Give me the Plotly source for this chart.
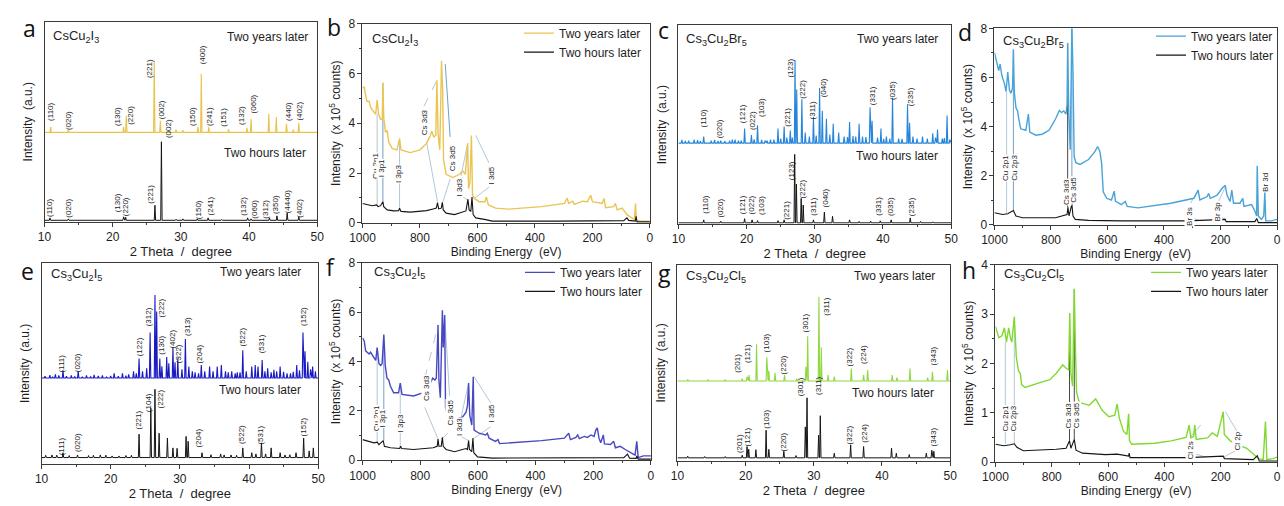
import plotly.graph_objects as go

W, H = 1284, 506
FONT = "Liberation Sans, Arial, sans-serif"
AX = "#3a3a3a"
TXT = "#1e1e1e"

# ======================= XRD data (2-theta in degree, intensity in a.u.) =======================
# (a) CsCu2I3
a_years_base = 44.7
a_years_pos = [10.9, 13.5, 21.6, 22.0, 26.1, 27.0, 29.3, 30.3, 32.5, 33.0, 34.1, 37.0, 39.7, 40.3, 42.9, 44.0, 45.5, 46.5, 47.3]
a_years_int = [47.5, 46.0, 47.5, 53.0, 80.6, 50.5, 46.0, 45.8, 47.5, 74.0, 47.5, 46.2, 47.0, 51.5, 54.0, 52.4, 49.0, 46.0, 49.5]
a_hours_base = 0.8
a_hours_pos = [10.8, 13.5, 21.6, 21.9, 26.2, 27.15, 29.3, 30.3, 32.4, 34.0, 36.0, 39.8, 40.3, 43.0, 44.1, 45.6, 47.3]
a_hours_int = [2.0, 1.5, 2.5, 2.3, 8.3, 40.0, 1.3, 1.5, 1.5, 2.0, 1.2, 2.0, 1.5, 2.0, 3.0, 4.4, 2.5]
a_years_hkl = ["(110)", "(020)", "(130)", "(220)", "(221)", "(002)", "(400)", "(150)", "(241)", "(151)", "(132)", "(060)", "(440)", "(402)"]
a_years_hkl_x = [10.77, 13.5, 20.8, 22.7, 25.3, 27.1, 33.2, 31.8, 34.3, 36.3, 39.0, 40.6, 45.7, 47.4]
a_years_hkl_y = [54.8, 50.5, 52.4, 53.0, 76.7, 55.8, 83.5, 52.4, 52.4, 52.4, 53.0, 58.7, 55.3, 55.3]
a_hours_hkl = ["(110)", "(020)", "(130)", "(220)", "(221)", "(002)", "(150)", "(241)", "(132)", "(060)", "(312)", "(350)", "(4440)", "(402)"]
a_hours_hkl_x = [10.77, 13.5, 20.7, 22.0, 25.6, 28.2, 32.5, 34.3, 39.2, 40.8, 42.4, 43.9, 45.7, 47.4]
a_hours_hkl_y = [6.8, 6.8, 9.5, 7.5, 14.0, 46.6, 6.3, 7.8, 7.8, 6.3, 6.3, 8.7, 10.2, 6.8]

# (c) Cs3Cu2Br5
c_years_base = 40.7
c_years_pos = [11.5, 12.3, 13.7, 14.8, 16.2, 17.5, 18.3, 19.7, 20.7, 21.6, 22.7, 23.5, 24.6, 25.5, 26.4, 27.1, 27.35, 28.1, 28.6, 29.8,
               30.7, 31.1, 31.7, 32.7, 33.5, 34.3, 35.1, 36.0, 36.5, 37.0, 38.1, 38.4, 39.7, 40.5, 41.4, 42.3, 43.6, 43.9, 45.0, 45.8,
               46.5, 47.3, 48.0, 48.7, 49.4,
               10.5, 11.0, 12.8, 13.2, 15.3, 15.8, 16.8, 17.9, 18.8, 19.2, 21.1, 22.2, 23.0, 24.0, 25.0, 25.9, 26.7, 29.2, 30.2, 32.2,
               34.8, 35.6, 37.5, 39.2, 40.1, 41.0, 42.8, 44.4, 47.7, 49.0, 49.8]
c_years_int = [42.0, 42.5, 44.0, 42.0, 42.0, 42.0, 42.5, 48.0, 44.8, 49.7, 42.0, 42.5, 48.0, 49.0, 47.0, 82.5, 67.7, 62.8, 46.0, 53.8,
               68.5, 57.0, 53.0, 50.5, 46.0, 44.0, 51.3, 44.0, 50.5, 44.0, 58.7, 52.0, 48.0, 44.0, 63.6, 43.0, 60.3, 51.0, 43.0, 44.0,
               43.0, 45.6, 47.5, 43.0, 54.6,
               42.3, 41.8, 42.2, 41.6, 42.3, 41.8, 41.8, 42.4, 42.0, 41.9, 42.6, 42.3, 42.0, 42.5, 43.0, 43.5, 43.5, 44.0, 44.5, 45.0,
               43.8, 44.2, 43.8, 43.5, 42.8, 43.0, 42.9, 44.0, 43.5, 43.2, 42.5]
c_hours_base = 0.5
c_hours_pos = [13.7, 16.2, 19.7, 20.8, 21.6, 24.6, 25.5, 27.05, 27.3, 28.0, 28.3, 29.8, 31.4, 32.6, 35.1, 36.5, 38.2, 39.6, 41.2, 44.0, 45.5, 47.3]
c_hours_int = [2.0, 1.3, 2.6, 2.0, 1.6, 1.6, 2.0, 35.0, 20.0, 12.8, 9.5, 2.0, 5.9, 3.8, 2.0, 1.2, 1.3, 1.5, 2.0, 3.0, 1.2, 1.0]
c_hkl = ["(110)", "(020)", "(121)", "(022)", "(103)", "(221)", "(123)", "(222)", "(311)", "(040)", "(331)", "(035)", "(235)"]
c_years_hkl_x = [13.7, 16.05, 19.5, 20.85, 22.2, 26.0, 26.4, 28.15, 29.8, 31.4, 38.4, 41.4, 44.0]
c_years_hkl_y = [53.0, 48.0, 55.4, 52.0, 58.7, 53.8, 78.4, 67.7, 57.4, 68.5, 64.4, 67.2, 63.9]
c_hours_hkl_x = [14.0, 16.15, 19.5, 20.85, 22.15, 25.9, 26.7, 28.25, 29.75, 31.5, 39.3, 41.1, 44.2]
c_hours_hkl_y = [9.5, 7.9, 9.5, 9.5, 9.2, 7.0, 26.7, 17.7, 8.7, 12.8, 8.7, 8.7, 8.7]

# (e) Cs3Cu2I5
e_years_base = 42.7
e_years_pos = [11.2, 12.0, 13.1, 14.3, 15.3, 16.5, 17.6, 18.8, 20.5, 21.7, 22.6, 23.3, 24.1, 25.2, 25.7, 26.4, 26.65, 27.1, 27.4, 28.1,
               28.4, 29.0, 29.3, 29.7, 30.8, 31.3, 32.2, 33.1, 34.3, 35.4, 36.0, 37.5, 38.3, 39.1, 40.4, 40.9, 41.3, 41.9, 42.7, 43.6,
               44.5, 45.5, 46.9, 47.8, 48.1, 48.5, 49.2, 49.6,
               10.5, 11.6, 12.5, 13.6, 14.8, 15.9, 17.1, 18.2, 19.4, 20.0, 21.1, 22.2, 23.7, 24.6, 30.3, 31.8, 32.7, 33.6, 34.8, 36.6,
               37.0, 38.0, 38.7, 39.6, 42.3, 43.2, 44.0, 45.0, 46.0, 46.4, 47.3, 48.9]
e_years_int = [44.2, 44.5, 46.5, 44.0, 46.0, 44.0, 44.3, 44.0, 45.0, 45.0, 44.5, 46.0, 52.4, 47.6, 65.3, 83.9, 75.8, 52.4, 48.5, 53.2,
               50.0, 58.0, 50.5, 52.4, 62.1, 48.4, 45.5, 49.2, 48.4, 48.4, 49.2, 46.0, 45.5, 56.5, 48.4, 49.2, 48.4, 51.6, 47.6, 46.8,
               48.4, 45.0, 49.2, 65.3, 56.0, 50.8, 48.4, 46.0,
               43.6, 43.3, 44.0, 43.6, 43.5, 43.4, 43.5, 43.7, 43.3, 43.8, 43.6, 43.9, 45.0, 46.0, 47.0, 46.0, 45.0, 46.0, 46.0, 46.0,
               45.5, 45.0, 45.5, 46.0, 46.0, 45.5, 46.0, 45.8, 45.0, 45.8, 46.5, 47.0]
e_hours_base = 3.2
e_hours_pos = [11.5, 13.1, 15.2, 16.8, 18.5, 20.2, 23.0, 24.1, 25.8, 26.4, 27.0, 28.2, 29.0, 29.6, 30.9, 31.2, 33.2, 35.9, 36.4, 39.1,
               40.4, 41.0, 41.8, 43.2, 44.5, 45.2, 46.8, 47.9, 48.7, 49.3,
               10.6, 12.2, 14.0, 17.5, 19.3, 21.2, 22.2, 34.5, 37.4, 38.2, 42.4, 45.9]
e_hours_int = [4.5, 5.6, 4.5, 4.2, 4.5, 4.0, 4.3, 14.8, 27.7, 37.1, 15.3, 12.9, 8.0, 7.8, 13.7, 11.3, 5.6, 5.0, 4.5, 8.0,
               5.6, 5.0, 10.5, 8.0, 5.6, 4.5, 5.6, 12.9, 6.5, 8.0,
               4.3, 4.4, 4.2, 4.3, 4.4, 4.0, 4.2, 4.6, 4.5, 4.3, 5.0, 4.6]
e_years_hkl = ["(111)", "(020)", "(122)", "(312)", "(222)", "(130)", "(402)", "(322)", "(313)", "(204)", "(522)", "(531)", "(152)"]
e_years_hkl_x = [12.85, 15.2, 24.1, 25.4, 27.4, 27.3, 28.8, 29.8, 31.0, 32.9, 39.0, 41.8, 47.9]
e_years_hkl_y = [50.0, 50.3, 58.0, 72.9, 77.7, 58.9, 62.1, 54.8, 68.5, 54.8, 62.9, 59.7, 73.4]
e_hours_hkl = ["(111)", "(020)", "(221)", "(104)", "(222)", "(204)", "(522)", "(531)", "(152)"]
e_hours_hkl_x = [12.85, 15.3, 24.0, 25.5, 27.2, 32.7, 39.0, 41.7, 47.9]
e_hours_hkl_y = [8.9, 10.5, 21.8, 30.6, 32.3, 12.9, 14.5, 14.5, 18.5]

# (g) Cs3Cu2Cl5
g_years_base = 40.8
g_years_pos = [11.5, 14.5, 17.0, 19.5, 20.2, 20.5, 21.6, 23.1, 23.4, 24.3, 25.7, 27.5, 28.85, 29.1, 30.75, 31.1, 32.1, 33.0, 35.5, 37.3,
               37.9, 41.5, 42.2, 44.1, 46.7, 47.4, 49.6]
g_years_int = [41.5, 41.5, 41.5, 42.0, 43.0, 43.8, 59.5, 52.9, 46.0, 45.0, 43.8, 42.0, 48.0, 63.6, 83.5, 57.9, 43.8, 43.0, 47.1, 43.8,
               46.3, 43.8, 42.5, 47.1, 42.5, 45.5, 46.3]
g_hours_base = 1.65
g_hours_pos = [11.5, 14.0, 17.0, 19.5, 20.2, 20.45, 21.5, 23.0, 23.4, 25.6, 27.4, 28.75, 29.0, 30.7, 30.95, 33.0, 35.4, 37.3, 41.4, 42.1,
               44.0, 46.5, 47.3, 47.6]
g_hours_int = [2.5, 2.3, 2.3, 3.0, 7.4, 6.0, 5.8, 15.7, 6.0, 5.0, 2.8, 17.4, 32.2, 13.2, 23.1, 4.0, 8.3, 7.4, 6.6, 4.0,
               3.3, 4.0, 5.5, 5.0]
g_hkl = ["(201)", "(121)", "(103)", "(220)", "(301)", "(311)", "(322)", "(224)", "(343)"]
g_years_hkl_x = [18.9, 20.2, 23.1, 25.5, 28.75, 31.9, 35.2, 37.2, 47.6]
g_years_hkl_y = [49.6, 54.5, 60.3, 48.8, 70.2, 78.5, 52.9, 54.5, 53.7]
g_hours_hkl_x = [19.0, 20.3, 23.1, 25.6, 28.1, 30.7, 35.2, 37.4, 47.6]
g_hours_hkl_y = [9.1, 12.4, 21.5, 9.9, 38.0, 38.0, 13.2, 14.0, 12.4]

# ======================= XPS data (binding energy eV, intensity x1e5 counts) =======================
b_years_be = [1000, 994, 985, 977, 971, 962, 954, 949, 944, 937, 931, 929, 926, 920, 914, 909, 897, 880, 871, 866,
              834, 800, 777, 766, 759, 752, 745, 741, 737, 731, 725, 721, 718, 709, 686, 663, 651, 642, 634, 631,
              626, 621, 617, 611, 594, 574, 569, 562, 537, 491, 377, 297, 288, 283, 269, 263, 234, 217, 206, 200,
              166, 160, 154, 126, 120, 114, 97, 80, 63, 54, 50, 47, 23, 0]
b_years_int = [5.40, 5.46, 4.88, 4.88, 4.62, 4.49, 4.36, 4.94, 4.36, 4.16, 4.16, 5.63, 4.23, 3.64, 3.71, 3.25, 2.99, 2.93, 3.38, 2.93,
               2.82, 2.93, 3.19, 3.45, 3.68, 3.45, 3.51, 5.72, 3.58, 2.93, 6.50, 5.33, 2.54, 1.95, 1.82, 1.95, 2.08, 1.95, 3.19, 1.37,
               1.63, 3.51, 1.11, 0.98, 0.85, 0.85, 1.04, 0.72, 0.59, 0.55, 0.65, 0.78, 1.00, 0.78, 0.87, 0.74, 0.87, 0.85, 1.11, 0.85,
               0.78, 0.98, 0.61, 0.65, 0.78, 0.52, 0.59, 0.33, 0.20, 0.13, 0.78, 0.09, 0.07, 0.07]
b_hours_be = [1000, 983, 966, 951, 946, 937, 929, 926, 914, 891, 874, 871, 866, 834, 777, 754, 743, 739, 735, 726,
              722, 719, 709, 680, 651, 640, 633, 629, 623, 619, 615, 606, 571, 549, 320, 91, 80, 74, 51, 48, 45, 0]
b_hours_int = [0.78, 0.74, 0.69, 0.72, 0.65, 0.69, 0.85, 0.65, 0.52, 0.48, 0.49, 0.59, 0.46, 0.43, 0.49, 0.56, 0.59, 0.81, 0.56, 0.59,
               0.82, 0.52, 0.39, 0.33, 0.46, 0.48, 0.95, 0.52, 0.46, 1.04, 0.33, 0.20, 0.13, 0.07, 0.07, 0.09, 0.20, 0.10, 0.07, 0.26, 0.04, 0.04]

d_years_be = [1000, 994, 985, 980, 974, 965, 959, 953, 947, 942, 936, 933, 930, 924, 918, 915, 907, 889, 880, 875,
              854, 831, 807, 784, 770, 763, 755, 747, 743, 741, 737, 732, 726, 722, 718, 712, 697, 667, 644, 635,
              627, 621, 615, 603, 586, 576, 572, 551, 537, 530, 492, 376, 294, 279, 273, 247, 242, 236, 212, 195,
              183, 177, 166, 160, 154, 131, 121, 117, 90, 78, 72, 70, 66, 55, 47, 43, 40, 20, 0]
d_years_int = [7.01, 6.75, 6.28, 6.55, 6.09, 5.76, 5.43, 6.22, 5.49, 5.36, 5.56, 7.14, 5.43, 4.77, 4.64, 4.37, 3.91, 3.85, 4.51, 3.78,
               3.65, 3.69, 3.85, 4.31, 4.66, 4.57, 4.64, 4.51, 4.90, 7.40, 4.51, 3.06, 8.06, 6.22, 2.79, 2.53, 2.46, 2.66, 2.99, 3.19,
               2.99, 2.53, 1.34, 1.08, 1.01, 1.37, 0.97, 0.82, 0.95, 0.75, 0.69, 0.88, 1.08, 1.41, 1.01, 1.15, 1.28, 1.08, 1.21, 1.48,
               1.61, 1.21, 0.95, 1.41, 0.88, 0.88, 1.08, 0.75, 0.82, 0.55, 0.36, 2.40, 0.36, 0.22, 0.36, 1.34, 0.16, 0.16, 0.22]
d_hours_be = [1000, 971, 953, 933, 924, 901, 784, 761, 743, 740, 736, 726, 722, 714, 667, 551, 317, 183, 180, 78, 72, 66, 0]
d_hours_int = [0.49, 0.42, 0.45, 0.58, 0.36, 0.29, 0.29, 0.36, 0.42, 0.71, 0.36, 0.84, 0.36, 0.22, 0.18, 0.16, 0.16, 0.22, 0.13, 0.13, 0.26, 0.09, 0.09]

f_years_be = [1000, 994, 989, 977, 972, 960, 954, 949, 943, 937, 932, 926, 921, 915, 909, 903, 892, 875, 869, 863,
              823, 789, 772, 757, 749, 744, 738, 735, 730, 723, 720, 715, 712, 704, 687, 653, 641, 636, 632, 628,
              621, 616, 613, 596, 573, 567, 561, 539, 530, 525, 482, 379, 300, 285, 279, 260, 254, 248, 231, 220,
              208, 197, 191, 186, 180, 174, 165, 161, 140, 129, 123, 106, 89, 66, 55, 49, 44, 26, 0]
f_years_int = [4.96, 4.83, 4.43, 4.30, 4.37, 4.17, 4.04, 4.56, 3.91, 3.84, 3.91, 5.09, 3.84, 3.32, 3.25, 2.99, 2.73, 2.73, 3.12, 2.66,
               2.60, 2.73, 2.92, 3.32, 3.25, 3.32, 5.48, 3.25, 2.53, 6.07, 4.56, 5.88, 2.14, 1.74, 1.61, 1.74, 1.94, 2.20, 3.12, 1.81,
               1.42, 3.38, 1.22, 1.09, 1.02, 1.09, 0.89, 0.76, 0.83, 0.67, 0.70, 0.79, 0.89, 1.09, 0.83, 0.92, 1.02, 0.87, 0.96, 0.92,
               1.02, 0.96, 1.22, 1.31, 0.89, 0.70, 1.02, 0.66, 0.63, 0.76, 0.50, 0.56, 0.43, 0.26, 0.20, 0.76, 0.10, 0.17, 0.17]
f_hours_be = [1000, 977, 960, 949, 943, 928, 924, 903, 871, 868, 864, 823, 755, 741, 738, 735, 727, 723, 720, 710,
              681, 641, 636, 632, 629, 621, 617, 614, 601, 550, 208, 94, 81, 74, 51, 49, 44, 0]
f_hours_int = [0.83, 0.76, 0.70, 0.73, 0.63, 0.79, 0.56, 0.50, 0.47, 0.56, 0.47, 0.43, 0.50, 0.56, 0.85, 0.56, 0.56, 0.92, 0.56, 0.43,
               0.34, 0.47, 0.43, 0.79, 0.43, 0.34, 0.89, 0.30, 0.13, 0.08, 0.10, 0.10, 0.24, 0.08, 0.07, 0.17, 0.04, 0.04]

h_years_be = [1000, 988, 977, 968, 961, 953, 947, 942, 933, 926, 918, 912, 907, 895, 842, 807, 784, 761, 749, 740,
              736, 732, 726, 720, 716, 712, 702, 667, 644, 621, 597, 576, 568, 560, 545, 533, 527, 524, 516, 434,
              376, 323, 312, 306, 296, 292, 287, 247, 230, 212, 191, 187, 166, 148, 131, 107, 84, 66, 49, 41, 36, 14, 0]
h_years_int = [2.75, 2.52, 2.56, 2.72, 2.43, 2.72, 2.52, 2.43, 2.95, 2.13, 1.84, 1.80, 1.57, 1.51, 1.61, 1.67, 1.80, 1.97, 1.90, 1.87,
               3.02, 1.80, 1.54, 3.51, 2.33, 1.41, 1.21, 1.15, 1.28, 1.05, 0.92, 0.95, 1.18, 0.89, 0.62, 0.56, 0.98, 0.43, 0.36, 0.38,
               0.43, 0.50, 0.75, 0.49, 0.52, 0.75, 0.46, 0.49, 0.59, 0.52, 1.02, 0.56, 0.43, 0.37, 0.33, 0.28, 0.16, 0.07, 0.05, 0.82, 0.05, 0.07, 0.10]
h_hours_be = [1000, 971, 947, 933, 924, 901, 784, 749, 737, 732, 720, 714, 691, 609, 568, 527, 525, 522, 317, 191, 187, 84, 70, 63, 0]
h_hours_int = [0.36, 0.33, 0.35, 0.37, 0.30, 0.23, 0.26, 0.28, 0.43, 0.28, 0.46, 0.24, 0.18, 0.15, 0.16, 0.12, 0.18, 0.09, 0.09, 0.12, 0.07, 0.05, 0.13, 0.02, 0.02]

# XPS peak labels (text, BE, intensity)
b_lab = ["Cu 2p1", "I 3p1", "I 3p3", "Cs 3d3", "Cs 3d5", "I 3d3", "I 3d5"]
b_lab_x = [957, 934, 874, 783, 688, 663, 552]
b_lab_y = [2.28, 2.21, 1.95, 4.03, 2.60, 1.43, 1.91]
d_lab = ["Cu 2p1", "Cu 2p3", "Cs 3d3", "Cs 3d5", "Br 3s", "Br 3p", "Br 3d"]
d_lab_x = [961, 930, 743, 720, 308, 212, 43]
d_lab_y = [2.33, 2.33, 1.34, 1.41, 0.36, 0.55, 1.74]
f_lab = ["Cu 2p1", "I 3p1", "I 3p3", "Cs 3d3", "Cs 3d5", "I 3d3", "I 3d5"]
f_lab_x = [951, 929, 867, 780, 696, 661, 552]
f_lab_y = [1.68, 1.68, 1.48, 2.92, 1.94, 1.35, 1.88]
h_lab = ["Cu 2p1", "Cu 2p3", "Cs 3d3", "Cs 3d5", "Cl 2s", "Cl 2p"]
h_lab_x = [965, 936, 741, 714, 308, 140]
h_lab_y = [0.89, 0.89, 0.95, 0.95, 0.24, 0.43]

# leader lines from labels to peaks: (BE0, I0, BE1, I1, tone, dash)
b_leaders = [(949, 0.72, 949, 4.36, "l", "solid"), (929, 0.85, 929, 5.6, "m", "solid"), (871, 0.59, 871, 3.38, "l", "solid"),
             (786, 4.68, 741, 5.72, "l", "dash"), (777, 3.25, 739, 0.85, "l", "solid"), (695, 3.45, 712, 6.37, "m", "solid"),
             (695, 1.76, 720, 0.85, "l", "solid"), (657, 1.89, 634, 3.19, "l", "solid"), (657, 1.10, 634, 0.91, "l", "solid"),
             (560, 2.41, 606, 3.51, "l", "solid"), (560, 1.43, 611, 0.98, "l", "solid")]
d_leaders = [(957, 0.45, 957, 5.43, "l", "solid"), (933, 0.58, 933, 7.14, "m", "solid"), (741, 0.71, 741, 7.4, "d", "solid"),
             (726, 0.84, 726, 8.0, "m", "solid"), (306, 0.88, 279, 1.41, "l", "solid"), (300, 0.29, 277, 0.18, "l", "solid"),
             (207, 0.95, 183, 1.54, "l", "solid"), (201, 0.32, 180, 0.22, "l", "solid")]
f_leaders = [(949, 0.73, 949, 4.56, "l", "solid"), (926, 0.79, 926, 5.0, "m", "solid"), (869, 0.56, 869, 3.12, "l", "solid"),
             (784, 3.32, 738, 5.48, "l", "dash"), (784, 2.14, 738, 0.85, "l", "solid"), (698, 2.6, 715, 5.88, "l", "solid"),
             (704, 1.09, 721, 0.89, "l", "solid"), (658, 1.74, 632, 3.12, "l", "solid"), (658, 0.96, 632, 0.79, "l", "solid"),
             (556, 2.33, 613, 3.38, "l", "solid"), (556, 1.35, 613, 0.89, "l", "solid")]
h_leaders = [(965, 0.37, 965, 2.43, "l", "solid"), (933, 0.37, 933, 2.9, "l", "solid"), (737, 0.43, 737, 3.0, "d", "solid"),
             (720, 0.46, 720, 3.5, "d", "solid"), (306, 0.52, 271, 0.75, "l", "solid"), (288, 0.16, 253, 0.10, "l", "solid"),
             (142, 0.62, 183, 1.02, "l", "solid"), (148, 0.23, 189, 0.10, "l", "solid")]
TONES = {"l": "#a9c1d3", "m": "#5f95c4", "d": "#333333"}


def xrd_line(base, pos, inten, lo=10.0, hi=50.0, w=0.1):
    xs, ys = [lo], [base]
    for p, h in sorted(zip(pos, inten)):
        xs += [p - w, p, p + w]
        ys += [base, h, base]
    xs.append(hi)
    ys.append(base)
    return xs, ys


# panel layout: letter, kind, title, colour, pixel box (left, right), (top, bottom)
panels = [
    ("a", "xrd", "CsCu<sub>2</sub>I<sub>3</sub>", "#e8c54a", (32, 309), (15, 221)),
    ("b", "xps", "CsCu<sub>2</sub>I<sub>3</sub>", "#eac553", (355, 647), (17, 222)),
    ("c", "xrd", "Cs<sub>3</sub>Cu<sub>2</sub>Br<sub>5</sub>", "#2585db", (676, 953), (19, 223)),
    ("d", "xps", "Cs<sub>3</sub>Cu<sub>2</sub>Br<sub>5</sub>", "#48a3d9", (997, 1284), (22, 224)),
    ("e", "xrd", "Cs<sub>3</sub>Cu<sub>2</sub>I<sub>5</sub>", "#1a1ac4", (29, 310), (263, 470)),
    ("f", "xps", "Cs<sub>3</sub>Cu<sub>2</sub>I<sub>5</sub>", "#4848c0", (355, 648), (263, 466)),
    ("g", "xrd", "Cs<sub>3</sub>Cu<sub>2</sub>Cl<sub>5</sub>", "#8fd83f", (675, 952), (265, 467)),
    ("h", "xps", "Cs<sub>3</sub>Cu<sub>2</sub>Cl<sub>5</sub>", "#80d930", (998, 1284), (265, 468)),
]

xrd_sets = {
    "a": (a_years_base, a_years_pos, a_years_int, a_hours_base, a_hours_pos, a_hours_int,
          (a_years_hkl, a_years_hkl_x, a_years_hkl_y), (a_hours_hkl, a_hours_hkl_x, a_hours_hkl_y)),
    "c": (c_years_base, c_years_pos, c_years_int, c_hours_base, c_hours_pos, c_hours_int,
          (c_hkl, c_years_hkl_x, c_years_hkl_y), (c_hkl, c_hours_hkl_x, c_hours_hkl_y)),
    "e": (e_years_base, e_years_pos, e_years_int, e_hours_base, e_hours_pos, e_hours_int,
          (e_years_hkl, e_years_hkl_x, e_years_hkl_y), (e_hours_hkl, e_hours_hkl_x, e_hours_hkl_y)),
    "g": (g_years_base, g_years_pos, g_years_int, g_hours_base, g_hours_pos, g_hours_int,
          (g_hkl, g_years_hkl_x, g_years_hkl_y), (g_hkl, g_hours_hkl_x, g_hours_hkl_y)),
}
xps_sets = {
    "b": (b_years_be, b_years_int, b_hours_be, b_hours_int, (b_lab, b_lab_x, b_lab_y), b_leaders, 8, "legend"),
    "d": (d_years_be, d_years_int, d_hours_be, d_hours_int, (d_lab, d_lab_x, d_lab_y), d_leaders, 8, "legend2"),
    "f": (f_years_be, f_years_int, f_hours_be, f_hours_int, (f_lab, f_lab_x, f_lab_y), f_leaders, 8, "legend3"),
    "h": (h_years_be, h_years_int, h_hours_be, h_hours_int, (h_lab, h_lab_x, h_lab_y), h_leaders, 4, "legend4"),
}

# text placements (pixels): title (left, y), years label (right, y), hours label (right, y), letter (x, y)
text_pos = {
    "a": ((39, 30), (302, 31), (300, 150), (17, 22)),
    "b": ((363, 33), None, None, (326, 21)),
    "c": ((682, 33), (942, 33), (942, 153), (661, 24)),
    "d": ((1004, 35), None, None, (967, 26)),
    "e": ((37, 275), (295, 273), (295, 394), (15, 271)),
    "f": ((365, 273), None, None, (323, 267)),
    "g": ((682, 277), (939, 277), (938, 397), (662, 274)),
    "h": ((1005, 275), None, None, (971, 270)),
}
legend_pos = {"legend": (514, 12), "legend2": (1156, 15), "legend3": (515, 258), "legend4": (1151, 258)}

fig = go.Figure()
layout = dict(width=W, height=H, margin=dict(l=0, r=0, t=0, b=0), paper_bgcolor="white", plot_bgcolor="white",
              font=dict(family=FONT, color=TXT, size=12), showlegend=True)
annotations, shapes = [], []


def px(x):
    return x / W


def py(y):
    return 1 - y / H


for i, (letter, kind, title, color, (xl, xr), (yt, yb)) in enumerate(panels, start=1):
    sfx = "" if i == 1 else str(i)
    xref, yref = "x" + sfx, "y" + sfx
    common = dict(showline=True, mirror=True, linecolor=AX, linewidth=1, ticks="outside", tickcolor=AX,
                  ticklen=4, tickwidth=1, showgrid=False, zeroline=False, tickfont=dict(size=12, color=TXT, family=FONT))
    if kind == "xrd":
        xa = dict(common, domain=[px(xl), px(xr)], anchor=yref, range=[10, 50], tick0=10, dtick=10,
                  minor=dict(ticks="outside", ticklen=2, tickcolor=AX, dtick=5, showgrid=False),
                  title=dict(text="2 Theta\u00a0 /\u00a0 degree", font=dict(size=13, family=FONT, color=TXT), standoff=3))
        ya = dict(common, domain=[py(yb), py(yt)], anchor=xref, range=[0, 100], ticks="", showticklabels=False,
                  title=dict(text="Intensity\u00a0 (a.u.)", font=dict(size=12, family=FONT, color=TXT), standoff=8))
        (yb0, ypos, yint, hb0, hpos, hint, ylab, hlab) = xrd_sets[letter]
        xs, ys = xrd_line(yb0, ypos, yint)
        fig.add_trace(go.Scatter(x=xs, y=ys, mode="lines", line=dict(color=color, width=1.1),
                                 xaxis=xref, yaxis=yref, name="Two years later", showlegend=False))
        xs, ys = xrd_line(hb0, hpos, hint)
        fig.add_trace(go.Scatter(x=xs, y=ys, mode="lines", line=dict(color="#151515", width=1.0),
                                 xaxis=xref, yaxis=yref, name="Two hours later", showlegend=False))
        for labs in (ylab, hlab):
            for t, lx, ly in zip(*labs):
                annotations.append(dict(text=t, x=lx, y=ly, xref=xref, yref=yref, showarrow=False, textangle=-90,
                                        xanchor="center", yanchor="middle", font=dict(size=8, color=TXT, family=FONT)))
    else:
        (ybe, yint, hbe, hint, labs, leaders, ymax, leg) = xps_sets[letter]
        xa = dict(common, domain=[px(xl), px(xr)], anchor=yref, range=[1000, 0], tick0=0, dtick=200,
                  minor=dict(ticks="outside", ticklen=2, tickcolor=AX, dtick=100, showgrid=False),
                  title=dict(text="Binding Energy\u00a0 (eV)", font=dict(size=12, family=FONT, color=TXT), standoff=3))
        ya = dict(common, domain=[py(yb), py(yt)], anchor=xref, range=[0, ymax], tick0=0, dtick=2 if ymax == 8 else 1,
                  minor=dict(ticks="outside", ticklen=2, tickcolor=AX, dtick=1 if ymax == 8 else 0.5, showgrid=False),
                  title=dict(text="Intensity\u00a0 (x 10<sup>5</sup> counts)", font=dict(size=12, family=FONT, color=TXT), standoff=5))
        fig.add_trace(go.Scatter(x=ybe, y=yint, mode="lines", line=dict(color=color, width=1.4),
                                 xaxis=xref, yaxis=yref, name="Two years later", legend=leg))
        fig.add_trace(go.Scatter(x=hbe, y=hint, mode="lines", line=dict(color="#151515", width=1.1),
                                 xaxis=xref, yaxis=yref, name="Two hours later", legend=leg))
        for (x0, y0, x1, y1, tone, dash) in leaders:
            shapes.append(dict(type="line", xref=xref, yref=yref, x0=x0, y0=y0, x1=x1, y1=y1, layer="below",
                               line=dict(color=TONES[tone], width=0.9, dash=dash)))
        for t, lx, ly in zip(*labs):
            annotations.append(dict(text=t, x=lx, y=ly, xref=xref, yref=yref, showarrow=False, textangle=-90,
                                    xanchor="center", yanchor="middle", bgcolor="white", borderpad=0,
                                    font=dict(size=8, color=TXT, family=FONT)))
        lx, ly = legend_pos[leg]
        layout[leg] = dict(x=px(lx), y=py(ly), xanchor="left", yanchor="top", bgcolor="rgba(0,0,0,0)",
                           font=dict(size=12, family=FONT, color=TXT), tracegroupgap=0, itemwidth=30)
    layout["xaxis" + sfx] = xa
    layout["yaxis" + sfx] = ya

    (tpos, ypos_t, hpos_t, lpos) = text_pos[letter]
    annotations.append(dict(text=title, x=px(tpos[0]), y=py(tpos[1]), xref="paper", yref="paper", showarrow=False,
                            xanchor="left", yanchor="middle", font=dict(size=13, family=FONT, color=TXT)))
    if ypos_t:
        annotations.append(dict(text="Two years later", x=px(ypos_t[0]), y=py(ypos_t[1]), xref="paper", yref="paper",
                                showarrow=False, xanchor="right", yanchor="middle", font=dict(size=12, family=FONT, color=TXT)))
        annotations.append(dict(text="Two hours later", x=px(hpos_t[0]), y=py(hpos_t[1]), xref="paper", yref="paper",
                                showarrow=False, xanchor="right", yanchor="middle", font=dict(size=12, family=FONT, color=TXT)))
    annotations.append(dict(text=letter, x=px(lpos[0]), y=py(lpos[1]), xref="paper", yref="paper", showarrow=False,
                            xanchor="center", yanchor="middle", font=dict(size=23, family="Open Sans, sans-serif", color="#111")))

layout["annotations"] = annotations
layout["shapes"] = shapes
fig.update_layout(**layout)
fig.write_html("out.html", config={"displayModeBar": False})
